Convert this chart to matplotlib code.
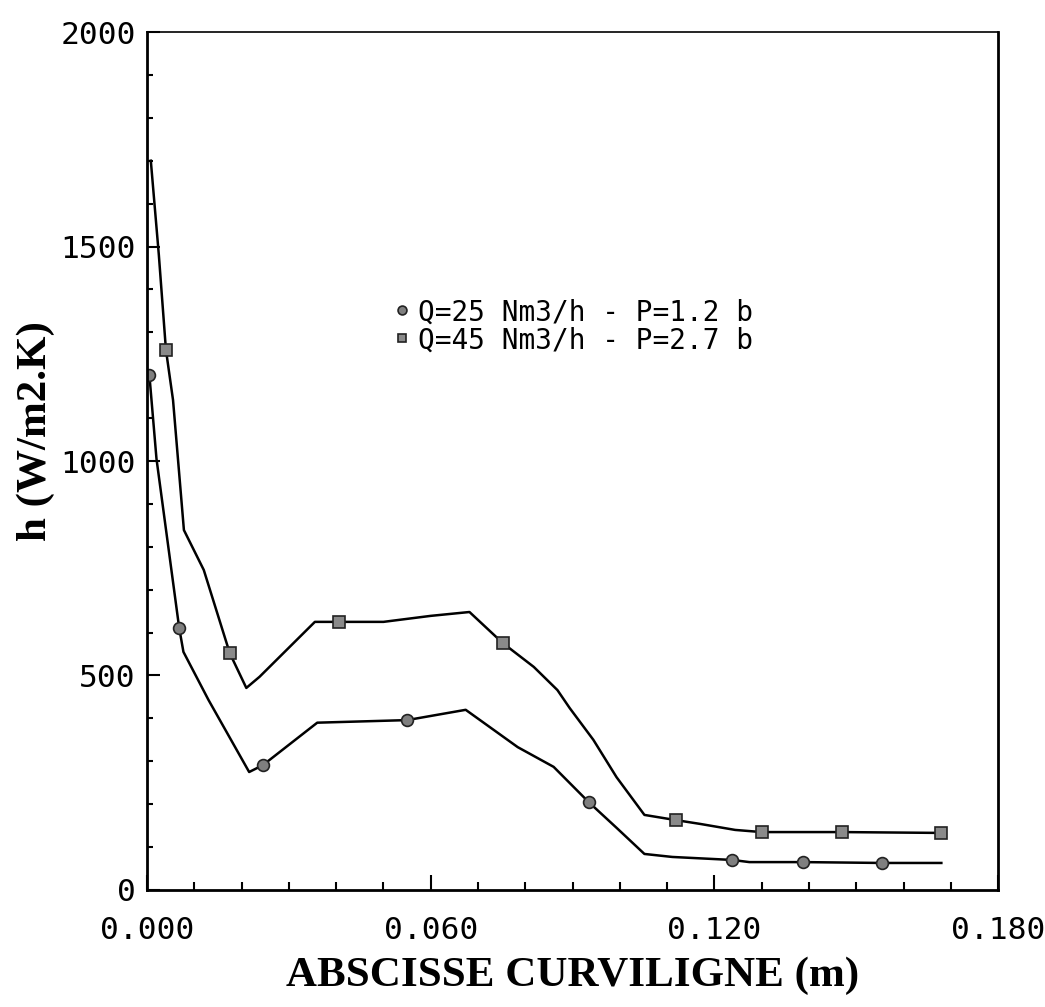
import matplotlib.pyplot as plt
from matplotlib.ticker import MultipleLocator

# courbe Q=25 Nm3/h - P=1.2 b (trace)
x_q25 = [0.0005, 0.002, 0.0068, 0.0077, 0.013, 0.0216, 0.0245, 0.036, 0.055, 0.0674,
         0.0784, 0.086, 0.0934, 0.0993, 0.1052, 0.1111, 0.1238, 0.1274, 0.1388, 0.1555, 0.168]
h_q25 = [1200, 1005, 611, 555, 443, 275, 291, 390, 396, 420,
         333, 287, 205, 145, 84, 77, 70, 65, 65, 63, 63]
# points mesures (cercles)
xm_q25 = [0.0005, 0.0068, 0.0245, 0.055, 0.0934, 0.1238, 0.1388, 0.1555]
hm_q25 = [1200, 611, 291, 396, 205, 70, 65, 63]

# courbe Q=45 Nm3/h - P=2.7 b (trace)
x_q45 = [0.0008, 0.0025, 0.004, 0.0055, 0.0078, 0.012, 0.0175, 0.021, 0.0238, 0.0355,
         0.0405, 0.050, 0.060, 0.0682, 0.0752, 0.0818, 0.0868, 0.0894, 0.0944, 0.0993,
         0.1052, 0.1118, 0.117, 0.1244, 0.13, 0.147, 0.168]
h_q45 = [1700, 1480, 1259, 1142, 839, 746, 552, 471, 497, 625,
         625, 625, 639, 648, 576, 520, 466, 424, 350, 263,
         175, 163, 154, 140, 135, 135, 133]
# points mesures (carres)
xm_q45 = [0.004, 0.0175, 0.0405, 0.0752, 0.1118, 0.13, 0.147, 0.168]
hm_q45 = [1259, 552, 625, 576, 163, 135, 135, 133]

labels = ['Q=25 Nm3/h - P=1.2 b', 'Q=45 Nm3/h - P=2.7 b']
x_ticks = [0.0, 0.06, 0.12, 0.18]
x_ticklabels = ['0.000', '0.060', '0.120', '0.180']
y_ticks = [0, 500, 1000, 1500, 2000]

mono = 'DejaVu Sans Mono'
serif = {'family': 'Liberation Serif', 'weight': 'bold', 'size': 31}

fig = plt.figure(figsize=(10.45, 10.07), dpi=100)
ax = fig.add_axes([0.1407, 0.1162, 0.8144, 0.852])

ax.plot(x_q25, h_q25, color='black', lw=1.8)
ax.plot(x_q45, h_q45, color='black', lw=1.8)
c1, = ax.plot(xm_q25, hm_q25, 'o', ms=8.5, mfc='#7f7f7f', mec='#222222', mew=1.2, ls='')
c2, = ax.plot(xm_q45, hm_q45, 's', ms=8, mfc='#8a8a8a', mec='#222222', mew=1.2, ls='')

ax.set_xlim(0, 0.18)
ax.set_ylim(0, 2000)
ax.set_xticks(x_ticks)
ax.set_xticklabels(x_ticklabels)
ax.set_yticks(y_ticks)
ax.xaxis.set_minor_locator(MultipleLocator(0.01))
ax.yaxis.set_minor_locator(MultipleLocator(100))
ax.tick_params(which='both', direction='in', top=False, right=False, width=1.5)
ax.tick_params(axis='x', which='major', length=11, pad=19)
ax.tick_params(axis='x', which='minor', length=6)
ax.tick_params(axis='y', which='major', length=9, pad=8)
ax.tick_params(axis='y', which='minor', length=4.5)
for lab in ax.get_xticklabels() + ax.get_yticklabels():
    lab.set_family(mono)
    lab.set_fontsize(22.5)

for s in ax.spines.values():
    s.set_linewidth(2)
ax.spines['top'].set_linewidth(1.2)

ax.set_xlabel('ABSCISSE CURVILIGNE (m)', fontdict=serif, labelpad=8)
ax.set_ylabel('h (W/m2.K)', fontdict=serif)
ax.yaxis.set_label_coords(-0.108, 0.535)

ax.legend([c1, c2], labels, loc='upper left', bbox_to_anchor=(0.27, 0.706),
          frameon=False, prop={'family': mono, 'size': 20}, markerscale=0.75,
          handlelength=0.8, handletextpad=0.2, labelspacing=0.0, borderpad=0)

fig.savefig('out.png', dpi=100)
